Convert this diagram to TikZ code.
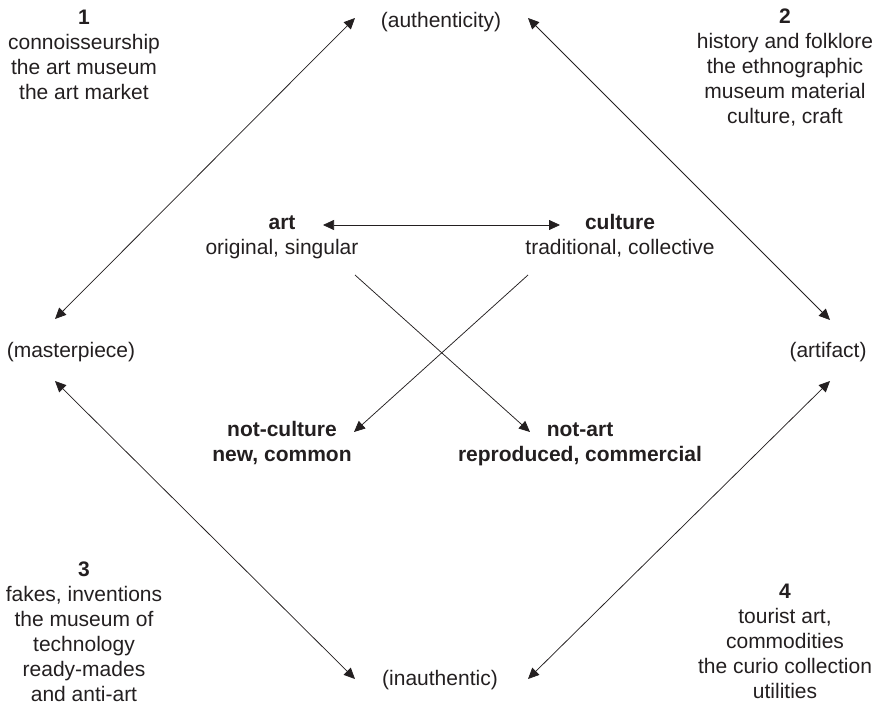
\documentclass[tikz,border=0pt]{standalone}
\usepackage{fontspec}
\setmainfont{Liberation Sans}
\usetikzlibrary{arrows.meta}
\definecolor{ink}{HTML}{231F20}
\begin{document}
\begin{tikzpicture}[x=1pt,y=-1pt,
  lbl/.style={anchor=base, inner sep=0pt, text=ink, font=\fontsize{21}{25}\selectfont},
  tip/.tip={Triangle[length=11pt,width=10pt]},
  both/.style={draw=ink, line width=0.75pt, tip-tip},
  one/.style={draw=ink, line width=0.75pt, -tip}]
\useasboundingbox (0,0) rectangle (880,706);
\node[lbl] (q1) at (84,25) {\begin{tabular}[t]{@{}c@{}}\textbf{1}\\connoisseurship\\the art museum\\the art market\end{tabular}};
\node[lbl] (auth) at (441,28) {(authenticity)};
\node[lbl] (q2) at (785,24) {\begin{tabular}[t]{@{}c@{}}\textbf{2}\\history and folklore\\the ethnographic\\museum material\\culture, craft\end{tabular}};
\node[lbl] (art) at (282,229) {\begin{tabular}[t]{@{}c@{}}\textbf{art}\\original, singular\end{tabular}};
\node[lbl] (cult) at (620,229) {\begin{tabular}[t]{@{}c@{}}\textbf{culture}\\traditional, collective\end{tabular}};
\node[lbl] (mast) at (71,357) {(masterpiece)};
\node[lbl] (arti) at (828,357) {(artifact)};
\node[lbl] (ncult) at (282,436) {\begin{tabular}[t]{@{}c@{}}\textbf{not-culture}\\\textbf{new, common}\end{tabular}};
\node[lbl] (nart) at (580,436) {\begin{tabular}[t]{@{}c@{}}\textbf{not-art}\\\textbf{reproduced, commercial}\end{tabular}};
\node[lbl] (q3) at (84,576) {\begin{tabular}[t]{@{}c@{}}\textbf{3}\\fakes, inventions\\the museum of\\technology\\ready-mades\\and anti-art\end{tabular}};
\node[lbl] (inauth) at (440,685) {(inauthentic)};
\node[lbl] (q4) at (785,598) {\begin{tabular}[t]{@{}c@{}}\textbf{4}\\tourist art,\\commodities\\the curio collection\\utilities\end{tabular}};
% arrow end points
\coordinate (mastN) at (55,319);
\coordinate (authW) at (355,18);
\coordinate (authE) at (528,18);
\coordinate (artiN) at (830,320);
\coordinate (mastS) at (55,381);
\coordinate (inauthW) at (355,679);
\coordinate (inauthE) at (528,679);
\coordinate (artiS) at (830,381);
\coordinate (artE) at (323,225);
\coordinate (cultW) at (560,225);
\coordinate (artSE) at (355,275);
\coordinate (nartNW) at (530,432);
\coordinate (cultSW) at (528,275);
\coordinate (ncultNE) at (354,432);
\draw[both] (mastN) -- (authW);
\draw[both] (authE) -- (artiN);
\draw[both] (mastS) -- (inauthW);
\draw[both] (inauthE) -- (artiS);
\draw[both] (artE) -- (cultW);
\draw[one] (artSE) -- (nartNW);
\draw[one] (cultSW) -- (ncultNE);
\end{tikzpicture}
\end{document}
